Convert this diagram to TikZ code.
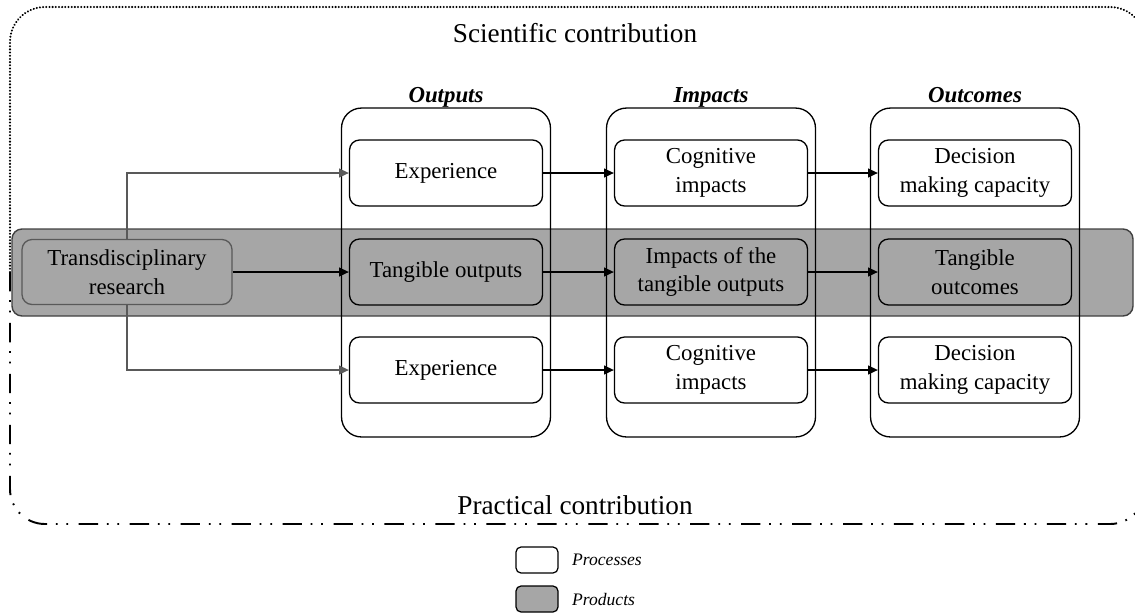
\documentclass[tikz,border=0pt]{standalone}
\usepackage{fontspec}
\setmainfont{Liberation Serif}
\usepackage{tikz}
\usetikzlibrary{arrows.meta}

\definecolor{prodgray}{HTML}{A6A6A6}
\definecolor{linkgray}{HTML}{595959}
\definecolor{bandline}{HTML}{404040}

\begin{document}
\begin{tikzpicture}[x=0.02cm,y=-0.02cm,
        box/.style={draw,rounded corners=0.2cm,line width=0.75pt,minimum width=3.86cm,minimum height=1.32cm,
                    align=center,font=\fontsize{13}{16.3}\selectfont},
        product/.style={box,fill=prodgray},
        column/.style={draw,rounded corners=0.4cm,line width=0.75pt,minimum width=4.18cm,minimum height=6.58cm},
        head/.style={anchor=base,font=\fontsize{13}{15}\selectfont\bfseries\itshape},
        contrib/.style={font=\fontsize{15.5}{18}\selectfont},
        link/.style={-{Triangle[length=5.5pt,width=5pt]},line width=0.65pt},
        graylink/.style={link,draw=linkgray}]
        \useasboundingbox (0,0) rectangle (1135,613);
        \clip (0,0) rectangle (1135,613);

        % Contribution frame: scientific half dotted, practical half dash-dot-dot
        \draw[line width=1.3pt,line cap=round,dash pattern=on 0.01pt off 1.8pt,rounded corners=0.7cm]
            (10,272) -- (10,7) -- (1145,7) -- (1145,272);
        \draw[line width=1.1pt,dash pattern=on 11pt off 5pt on 1pt off 5pt on 1pt off 6pt,rounded corners=0.7cm]
            (10,272) -- (10,524) -- (1145,524) -- (1145,272);
        \node (science)   at (575,33)  [contrib] {Scientific contribution};
        \node (practice)  at (575,505) [contrib] {Practical contribution};

        % Product band
        \draw[draw=bandline,fill=prodgray,line width=0.8pt,rounded corners=0.2cm] (12,229) rectangle (1133,316);

        % Columns
        \node (Ocol)      at (446,272.5) [column] {};
        \node (Icol)      at (711,272.5) [column] {};
        \node (Ccol)      at (975,272.5) [column] {};
        \node (Ohead)     at (446,102)   [head] {Outputs};
        \node (Ihead)     at (711,102)   [head] {Impacts};
        \node (Chead)     at (975,102)   [head] {Outcomes};

        \node (Tresearch) at (127,272) [product,draw=linkgray,minimum width=4.2cm,minimum height=1.3cm] {Transdisciplinary\\research};

        \node (Oexp1)     at (446,173) [box,fill=white] {Experience};
        \node (Otang)     at (446,272) [product] {Tangible outputs};
        \node (Oexp2)     at (446,370) [box,fill=white] {Experience};

        \node (Icog1)     at (711,173) [box,fill=white] {Cognitive\\impacts};
        \node (Itang)     at (711,272) [product] {Impacts of the\\tangible outputs};
        \node (Icog2)     at (711,370) [box,fill=white] {Cognitive\\impacts};

        \node (Cdec1)     at (975,173) [box,fill=white] {Decision\\making capacity};
        \node (Ctang)     at (975,272) [product] {Tangible\\outcomes};
        \node (Cdec2)     at (975,370) [box,fill=white] {Decision\\making capacity};

        % Arrows from the research
        \draw[graylink] (Tresearch.north) |- (Oexp1.west);
        \draw[graylink] (Tresearch.south) |- (Oexp2.west);
        \draw[link] (Tresearch) -- (Otang);

        % Arrows along the rows
        \foreach \a/\b in {Oexp1/Icog1,Otang/Itang,Oexp2/Icog2,Icog1/Cdec1,Itang/Ctang,Icog2/Cdec2}
            \draw[link] (\a) -- (\b);

        % Legend
        \node (Lproc)     at (537,560) [draw,rounded corners=0.1cm,line width=0.7pt,minimum width=0.84cm,minimum height=0.52cm] {};
        \node (Lprod)     at (537,599) [draw,fill=prodgray,rounded corners=0.1cm,line width=0.7pt,minimum width=0.84cm,minimum height=0.52cm] {};
        \node (Lproctext) at (566,560) [anchor=west,font=\fontsize{10}{12}\selectfont\itshape] {Processes};
        \node (Lprodtext) at (566,599) [anchor=west,font=\fontsize{10}{12}\selectfont\itshape] {Products};
\end{tikzpicture}
\end{document}
